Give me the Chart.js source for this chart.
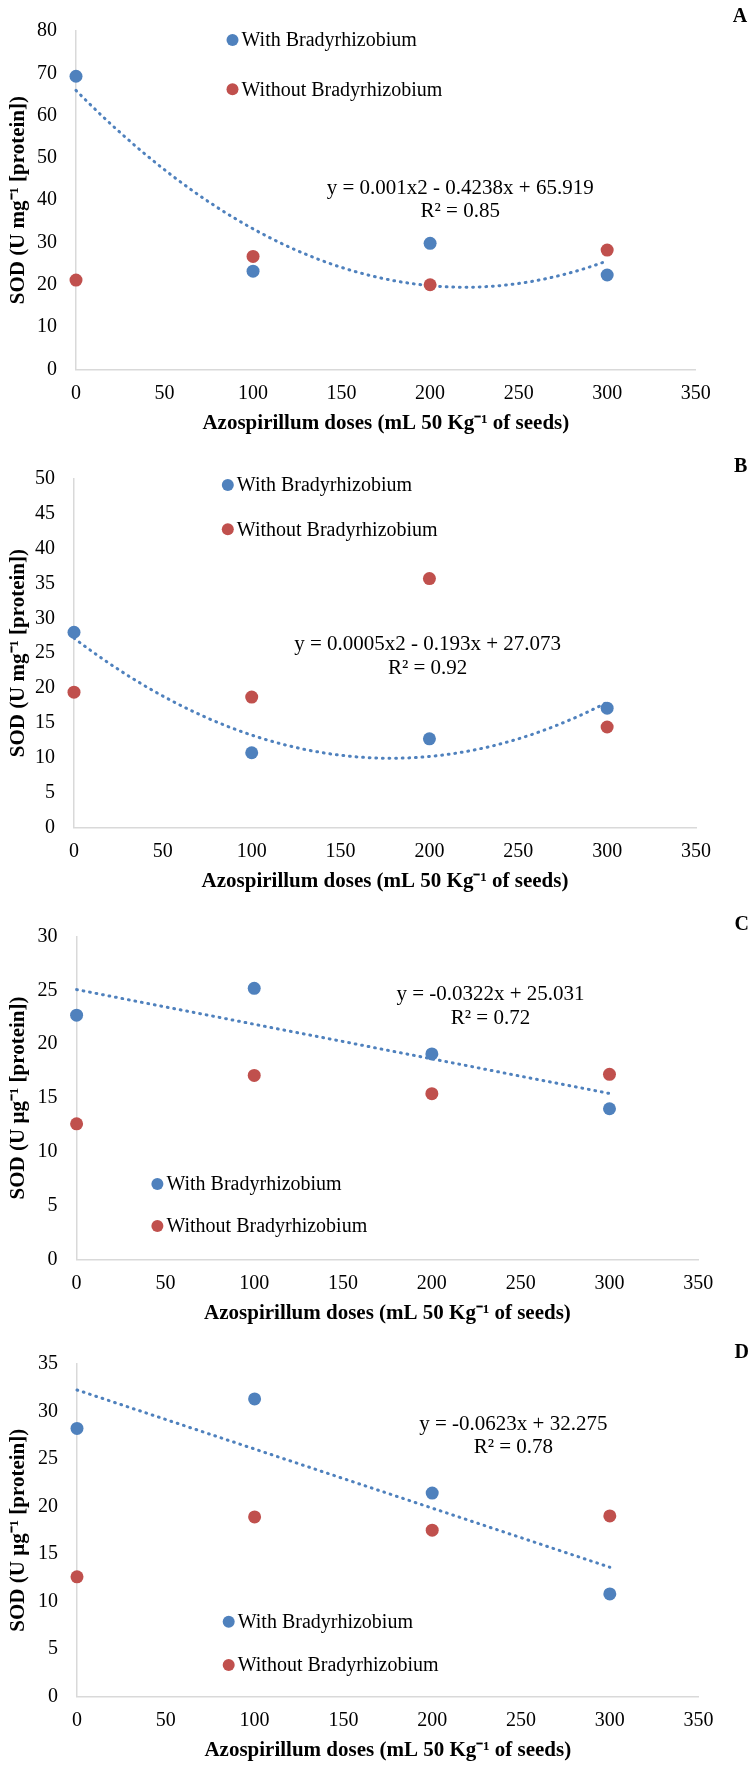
<!DOCTYPE html>
<html>
<head>
<meta charset="utf-8">
<script src="https://cdn.jsdelivr.net/npm/chart.js@4.4.1/dist/chart.umd.min.js"></script>
<style>
  html, body { margin: 0; padding: 0; background: #fff; overflow: hidden; }
  #wrap { position: relative; width: 750px; height: 1765px; overflow: hidden; }
  .panel { position: absolute; left: 0; width: 750px; }
</style>
</head>
<body>
<div id="wrap">
  <div class="panel" id="pA"><canvas id="chartA"></canvas></div>
  <div class="panel" id="pB"><canvas id="chartB"></canvas></div>
  <div class="panel" id="pC"><canvas id="chartC"></canvas></div>
  <div class="panel" id="pD"><canvas id="chartD"></canvas></div>
</div>
<script>
// ---- data ----
const doses = [0, 100, 200, 300];
const seriesLabels = ['With Bradyrhizobium', 'Without Bradyrhizobium'];
const xTicks = [0, 50, 100, 150, 200, 250, 300, 350];

const withA = [69.3, 23.2, 29.8, 22.3];
const withoutA = [21.1, 26.7, 20.0, 28.2];
const withB = [28.0, 10.7, 12.7, 17.1];
const withoutB = [19.4, 18.7, 35.7, 14.4];
const withC = [22.7, 25.2, 19.1, 14.0];
const withoutC = [12.6, 17.1, 15.4, 17.2];
const withD = [28.2, 31.3, 21.4, 10.8];
const withoutD = [12.6, 18.9, 17.5, 19.0];

const yMax = [80, 50, 30, 35];
const yStep = [10, 5, 5, 5];
const trendDegree = [2, 2, 1, 1];
const equations = [
  ['y = 0.001x2 - 0.4238x + 65.919', 'R² = 0.85'],
  ['y = 0.0005x2 - 0.193x + 27.073', 'R² = 0.92'],
  ['y = -0.0322x + 25.031', 'R² = 0.72'],
  ['y = -0.0623x + 32.275', 'R² = 0.78']
];
const yTitles = ['SOD (U mg⁻¹ [protein])', 'SOD (U mg⁻¹ [protein])', 'SOD (U µg⁻¹ [protein])', 'SOD (U µg⁻¹ [protein])'];
const xTitle = 'Azospirillum doses (mL 50 Kg⁻¹ of seeds)';
const panelLetters = ['A', 'B', 'C', 'D'];

const BLUE = '#4F81BD';
const RED = '#C0504D';
const SERIF = "'Liberation Serif', 'Times New Roman', serif";

Chart.defaults.font.family = SERIF;
Chart.defaults.color = '#000';

// least squares polynomial fit (Excel trendline)
function polyfit(xs, ys, deg) {
  const n = deg + 1;
  const A = [];
  for (let i = 0; i < n; i++) {
    A.push([]);
    for (let j = 0; j < n; j++) A[i].push(xs.reduce((s, x) => s + Math.pow(x, i + j), 0));
    A[i].push(xs.reduce((s, x, k) => s + ys[k] * Math.pow(x, i), 0));
  }
  for (let c = 0; c < n; c++) {
    let p = c;
    for (let r = c + 1; r < n; r++) if (Math.abs(A[r][c]) > Math.abs(A[p][c])) p = r;
    [A[c], A[p]] = [A[p], A[c]];
    for (let r = 0; r < n; r++) {
      if (r === c) continue;
      const f = A[r][c] / A[c][c];
      for (let k = c; k <= n; k++) A[r][k] -= f * A[c][k];
    }
  }
  return A.map((row, i) => row[n] / row[i]);
}

function trendPoints(xs, ys, deg) {
  const coef = polyfit(xs, ys, deg);
  const pts = [];
  for (let x = xs[0]; x <= xs[xs.length - 1]; x += 2) {
    pts.push({ x: x, y: coef.reduce((s, c, i) => s + c * Math.pow(x, i), 0) });
  }
  return pts;
}

// legend, equation and panel letter
const overlayPlugin = {
  id: 'overlay',
  afterDatasetsDraw(chart, args, o) {
    const { ctx, scales: { x, y } } = chart;
    ctx.save();
    ctx.fillStyle = '#000';
    ctx.font = '21px ' + SERIF;
    ctx.textAlign = 'center';
    ctx.textBaseline = 'middle';
    const ex = x.getPixelForValue(o.eqAt[0]);
    ctx.fillText(o.eq[0], ex, y.getPixelForValue(o.eqAt[1]));
    ctx.fillText(o.eq[1], ex, y.getPixelForValue(o.eqAt[2]));

    ctx.font = '20px ' + SERIF;
    ctx.textAlign = 'left';
    chart.data.datasets.slice(0, 2).forEach((ds, i) => {
      const cx = o.legend[0], cy = o.legend[1] + i * o.legend[2];
      ctx.beginPath();
      ctx.fillStyle = ds.backgroundColor;
      ctx.arc(cx, cy, 6, 0, Math.PI * 2);
      ctx.fill();
      ctx.fillStyle = '#000';
      ctx.fillText(ds.label, cx + 9, cy + 1);
    });

    ctx.font = 'bold 20px ' + SERIF;
    ctx.textAlign = 'center';
    ctx.fillText(o.letter, o.letterAt[0], o.letterAt[1]);
    ctx.restore();
  }
};

// page geometry of each panel
const panels = [
  { top: 0,    left: 76,   right: 695.7, cTop: 27.7,   cBottom: 369.3,
    eqAt: [217, 42.8, 37.3], legend: [232.5, 40, 49.3], letterAt: [740, 17.3] },
  { top: 440,  left: 74,   right: 696,   cTop: 479,    cBottom: 827.3,
    eqAt: [199, 26.3, 22.8], legend: [227.8, 485, 44.3], letterAt: [740.7, 466.7] },
  { top: 880,  left: 76.6, right: 698.3, cTop: 936.7,  cBottom: 1259.3,
    eqAt: [233, 24.6, 22.4], legend: [157.4, 1184, 42], letterAt: [741.7, 925] },
  { top: 1320, left: 77,   right: 698.6, cTop: 1363.7, cBottom: 1696.7,
    eqAt: [245.7, 28.6, 26.2], legend: [228.7, 1621.7, 43.3], letterAt: [741.6, 1353.3] }
];
const withSets = [withA, withB, withC, withD];
const withoutSets = [withoutA, withoutB, withoutC, withoutD];
const ids = ['A', 'B', 'C', 'D'];

panels.forEach((g, i) => {
  const xh = 72;
  const h = Math.round(g.cBottom - g.top + xh);
  const holder = document.getElementById('p' + ids[i]);
  holder.style.top = g.top + 'px';
  holder.style.height = h + 'px';
  const canvas = document.getElementById('chart' + ids[i]);
  canvas.width = 750;
  canvas.height = h;
  const xScaleH = h - (g.cBottom - g.top);

  new Chart(canvas, {
    type: 'scatter',
    data: {
      datasets: [
        { label: seriesLabels[0], data: doses.map((d, k) => ({ x: d, y: withSets[i][k] })),
          backgroundColor: BLUE, borderWidth: 0, pointRadius: 6.5, pointHoverRadius: 6.5 },
        { label: seriesLabels[1], data: doses.map((d, k) => ({ x: d, y: withoutSets[i][k] })),
          backgroundColor: RED, borderWidth: 0, pointRadius: 6.5, pointHoverRadius: 6.5 },
        { label: 'trend', data: trendPoints(doses, withSets[i], trendDegree[i]),
          showLine: true, borderColor: BLUE, borderWidth: 3, borderDash: [0.8, 5.8],
          borderCapStyle: 'round', pointRadius: 0, fill: false, tension: 0 }
      ]
    },
    options: {
      responsive: false,
      animation: false,
      devicePixelRatio: 1,
      clip: false,
      events: [],
      layout: { padding: { top: g.cTop - g.top, right: 750 - g.right, bottom: 0, left: 0 } },
      plugins: {
        legend: { display: false },
        tooltip: { enabled: false },
        overlay: {
          eq: equations[i], eqAt: g.eqAt,
          legend: [g.legend[0], g.legend[1] - g.top, g.legend[2]],
          letter: panelLetters[i], letterAt: [g.letterAt[0], g.letterAt[1] - g.top]
        }
      },
      scales: {
        x: {
          type: 'linear', min: xTicks[0], max: xTicks[xTicks.length - 1],
          afterBuildTicks: s => { s.ticks = xTicks.map(v => ({ value: v })); },
          afterFit: s => { s.height = xScaleH; },
          grid: { display: false, drawTicks: false },
          border: { display: true, color: '#d9d9d9', width: 1.5 },
          ticks: { padding: 12, font: { size: 20 }, color: '#000', maxRotation: 0 },
          title: { display: true, text: xTitle, font: { size: 21, weight: 'bold' }, color: '#000',
                   padding: { top: 0, bottom: xScaleH - 54 - 12.6 } }
        },
        y: {
          type: 'linear', min: 0, max: yMax[i],
          afterFit: s => { s.width = g.left; },
          grid: { display: false, drawTicks: false },
          border: { display: true, color: '#d9d9d9', width: 1.5 },
          ticks: { stepSize: yStep[i], padding: 19, font: { size: 20 }, color: '#000' },
          title: { display: true, text: yTitles[i], font: { size: 21, weight: 'bold' }, color: '#000',
                   padding: { top: 6.4, bottom: 0 } }
        }
      }
    },
    plugins: [overlayPlugin]
  });
});
</script>
</body>
</html>
